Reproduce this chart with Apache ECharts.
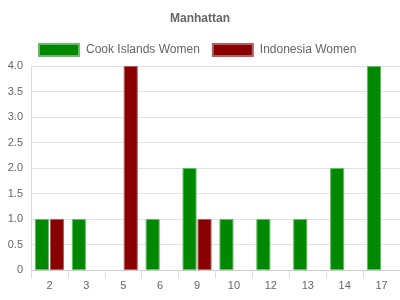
<!DOCTYPE html>
<html><head><meta charset="utf-8">
<script src="https://cdn.jsdelivr.net/npm/echarts@6/dist/echarts.min.js"></script>
<style>html,body{margin:0;padding:0;background:#fff}#c{width:400px;height:300px}</style>
</head><body><div id="c"></div>
<script>
var categories = ['2','3','5','6','9','10','12','13','14','17'];
var cookIslandsWomen = [1, 1, 0, 1, 2, 1, 1, 1, 2, 4];
var indonesiaWomen = [1, 0, 4, 0, 1, 0, 0, 0, 0, 0];
var yTicks = [0, 0.5, 1, 1.5, 2, 2.5, 3, 3.5, 4];

function nz(arr){ return arr.map(function(v){ return v === 0 ? '-' : v; }); }

var chart = echarts.init(document.getElementById('c'));
chart.setOption({
  animation: false,
  title: {text: 'Manhattan', left: 'center', top: 8,
    textStyle: {fontFamily: 'Liberation Sans, Arial', fontSize: 12, fontWeight: 'bold', color: '#666'}},
  legend: {top: 38, left: 33, itemWidth: 40, itemHeight: 12, itemGap: 12, icon: 'rect',
    textStyle: {fontFamily: 'Liberation Sans, Arial', fontSize: 12, color: '#666', padding: [0, 0, 0, 2]}},
  grid: {left: 31, right: 0, top: 66, bottom: 30, containLabel: false},
  xAxis: {type: 'category', data: categories,
    axisLine: {lineStyle: {color: '#ccc'}},
    axisTick: {show: true, length: 8, lineStyle: {color: '#ddd'}},
    axisLabel: {color: '#666', fontFamily: 'Liberation Sans, Arial', fontSize: 11, margin: 10}},
  yAxis: {type: 'value', min: yTicks[0], max: yTicks[yTicks.length-1], interval: 0.5,
    axisLine: {show: true, lineStyle: {color: '#ddd'}},
    axisTick: {show: false},
    splitLine: {lineStyle: {color: '#e3e3e3'}},
    axisLabel: {color: '#666', fontFamily: 'Liberation Sans, Arial', fontSize: 11, margin: 8,
      formatter: function(v){ return v === 0 ? '0' : v.toFixed(1); }}},
  series: [
    {name: 'Cook Islands Women', type: 'bar', data: nz(cookIslandsWomen), barWidth: 14, barGap: '7%',
      itemStyle: {color: '#008800', borderColor: '#66bb66', borderWidth: 1}},
    {name: 'Indonesia Women', type: 'bar', data: nz(indonesiaWomen), barWidth: 14,
      itemStyle: {color: '#880000', borderColor: '#b06060', borderWidth: 1}}
  ]
});
</script></body></html>
